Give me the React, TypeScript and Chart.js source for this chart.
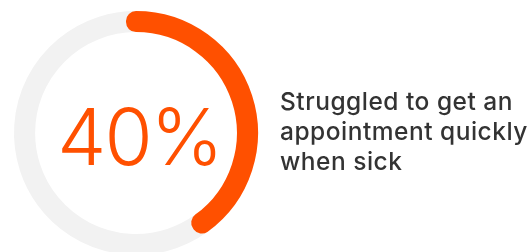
import React, { useEffect, useRef } from "react";
import { Chart, registerables } from "chart.js";

Chart.register(...registerables);

const labels = ["Other", "Struggled to get an appointment quickly when sick"];
const values = [60, 40];
const percentLabel = "40%";
const caption = ["Struggled to get an", "appointment quickly", "when sick"];

const ORANGE = "#FF5000";
const GREY = "#F2F2F2";

export default function App() {
  const ref = useRef<HTMLCanvasElement | null>(null);

  useEffect(() => {
    if (!ref.current) return;
    const chart = new Chart(ref.current, {
      type: "doughnut",
      data: {
        labels,
        datasets: [
          {
            data: values,
            backgroundColor: [GREY, ORANGE],
            borderColor: [GREY, ORANGE],
            borderWidth: 20,
            borderJoinStyle: "round",
            borderAlign: "center",
            clip: false,
          } as any,
        ],
      },
      options: {
        responsive: false,
        animation: false,
        events: [],
        rotation: 144,
        radius: 112,
        cutout: "99%",
        layout: { padding: 0 },
        plugins: {
          legend: { display: false },
          tooltip: { enabled: false },
        },
      },
    });
    return () => chart.destroy();
  }, []);

  return (
    <div
      style={{
        position: "fixed",
        left: 0,
        top: 0,
        width: 531,
        height: 252,
        overflow: "hidden",
        background: "#fff",
      }}
    >
      <canvas
        ref={ref}
        width={272}
        height={266}
        style={{ position: "absolute", left: 0, top: 0, width: 272, height: 266 }}
      />
      <div
        style={{
          position: "absolute",
          left: 0,
          width: 279,
          top: 98,
          textAlign: "center",
          fontFamily: "Inter, 'Noto Sans', sans-serif",
          fontWeight: 300,
          fontSize: 78,
          lineHeight: "78px",
          letterSpacing: "-2px",
          color: ORANGE,
          whiteSpace: "nowrap",
        }}
      >
        {percentLabel}
      </div>
      <div
        style={{
          position: "absolute",
          left: 280,
          top: 86,
          fontFamily: "Inter, 'Noto Sans', sans-serif",
          fontWeight: 500,
          fontSize: 24.5,
          lineHeight: "30px",
          letterSpacing: "0.5px",
          color: "#333333",
          whiteSpace: "nowrap",
        }}
      >
        {caption.map((l, i) => (
          <div key={i}>{l}</div>
        ))}
      </div>
    </div>
  );
}
